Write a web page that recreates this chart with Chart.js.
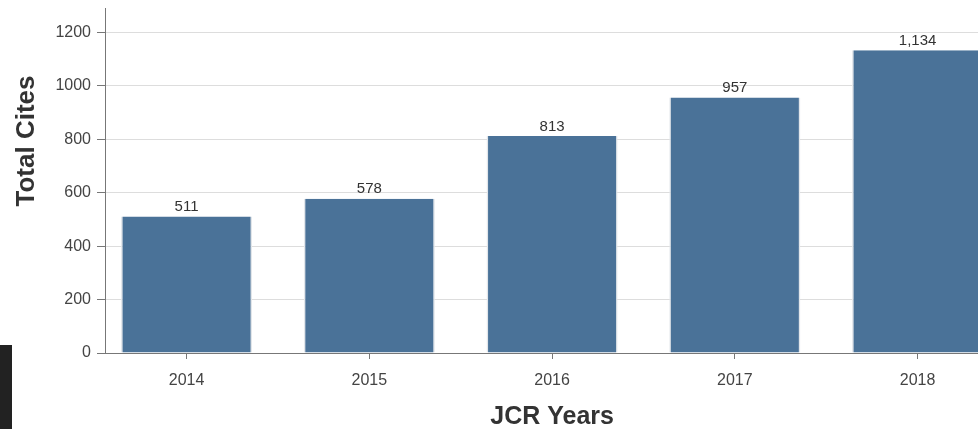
<!DOCTYPE html>
<html>
<head>
<meta charset="utf-8">
<script src="https://cdn.jsdelivr.net/npm/chart.js@4"></script>
<style>
  html, body { margin: 0; padding: 0; background: #fff; overflow: hidden; }
  #wrap { position: relative; width: 1020px; height: 429px; }
  #blk { position: absolute; left: 0; top: 345px; width: 12px; height: 84px; background: #222; }
</style>
</head>
<body>
<div id="wrap">
  <canvas id="myChart"></canvas>
  <div id="blk"></div>
</div>
<script>
// data
const years = ['2014', '2015', '2016', '2017', '2018'];
const totalCites = [511, 578, 813, 957, 1134];
const yTicks = [0, 200, 400, 600, 800, 1000, 1200];

const barColor = '#4a7298';
const textColor = '#333';
const fontFam = '"Liberation Sans", Arial, sans-serif';

// the category band in the original starts a bit left of the y axis
const shiftX = {
    id: 'shiftX',
    afterLayout(chart) {
        const x = chart.scales.x;
        x._startPixel = 95.2;
        x._length = 182.75 * years.length;
        x._endPixel = x._startPixel + x._length;
    }
};

// value labels over bars + axis titles
const labelPlugin = {
    id: 'labels',
    afterDatasetsDraw(chart) {
        const ctx = chart.ctx;
        const meta = chart.getDatasetMeta(0);
        ctx.save();
        ctx.fillStyle = textColor;
        ctx.font = '15px ' + fontFam;
        ctx.textAlign = 'center';
        ctx.textBaseline = 'bottom';
        meta.data.forEach((bar, i) => {
            ctx.fillText(totalCites[i].toLocaleString('en-US'), bar.x, bar.y - 2);
        });
        // axis titles
        ctx.fillStyle = '#333';
        ctx.textBaseline = 'middle';
        ctx.font = 'bold 25px ' + fontFam;
        ctx.fillText('JCR Years', chart.scales.x.getPixelForValue(2), 417);
        ctx.font = 'bold 26px ' + fontFam;
        ctx.translate(27, 141);
        ctx.rotate(-Math.PI / 2);
        ctx.fillText('Total Cites', 0, 0);
        ctx.restore();
    }
};

const chart = new Chart(document.getElementById('myChart'), {
    type: 'bar',
    data: {
        labels: years,
        datasets: [{
            data: totalCites,
            backgroundColor: barColor,
            borderColor: '#e2e6ea',
            borderWidth: { left: 1.5, right: 1.5, top: 0, bottom: 0 },
            categoryPercentage: 1,
            barPercentage: 0.717
        }]
    },
    options: {
        responsive: true,
        maintainAspectRatio: false,
        animation: false,
        layout: { padding: { top: 8, left: 0, right: 0, bottom: 0 } },
        plugins: { legend: { display: false }, tooltip: { enabled: false } },
        scales: {
            x: {
                afterFit: (s) => { s.height = 76; },
                border: { color: '#777', width: 1 },
                grid: { offset: false, drawOnChartArea: false, tickLength: 6, color: '#777' },
                ticks: { color: '#444', padding: 12, font: { size: 16, family: fontFam } }
            },
            y: {
                min: 0,
                max: 1292,
                afterFit: (s) => { s.width = 105; s.paddingTop = 0; s.paddingBottom = 0; },
                afterBuildTicks: (s) => { s.ticks = yTicks.map(v => ({ value: v })); },
                border: { color: '#777', width: 1 },
                grid: { color: '#ddd', tickLength: 8, tickColor: '#777' },
                ticks: {
                    color: '#444', padding: 6, font: { size: 16, family: fontFam },
                    callback: (v) => String(v)
                }
            }
        }
    },
    plugins: [shiftX, labelPlugin]
});
</script>
</body>
</html>
